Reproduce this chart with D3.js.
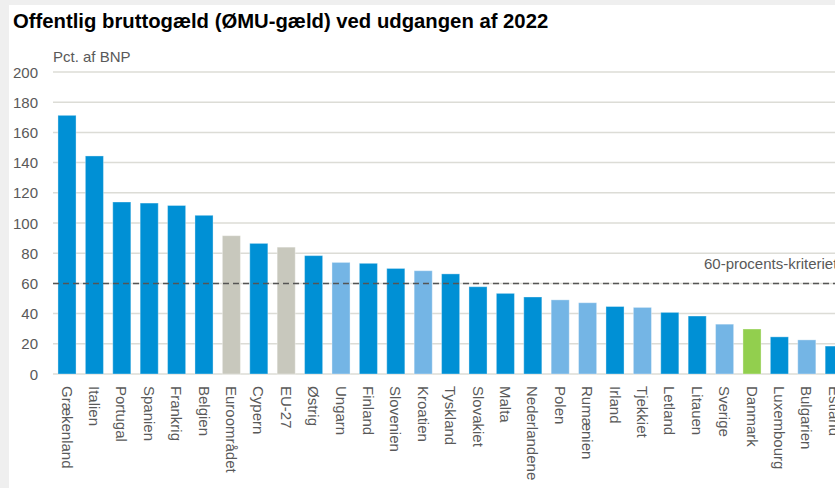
<!DOCTYPE html>
<html>
<head>
<meta charset="utf-8">
<script src="https://cdn.jsdelivr.net/npm/d3@7"></script>
<style>
  body { margin: 0; background: #efefef; }
  svg { display: block; }
  text { font-family: "Liberation Sans", Arial, sans-serif; }
</style>
</head>
<body>
<div id="chart"></div>
<script>
// data
var countries = ["Grækenland", "Italien", "Portugal", "Spanien", "Frankrig", "Belgien",
  "Euroområdet", "Cypern", "EU-27", "Østrig", "Ungarn", "Finland", "Slovenien", "Kroatien",
  "Tyskland", "Slovakiet", "Malta", "Nederlandene", "Polen", "Rumænien", "Irland", "Tjekkiet",
  "Letland", "Litauen", "Sverige", "Danmark", "Luxembourg", "Bulgarien", "Estland"];
var debt = [171.3, 144.4, 113.9, 113.2, 111.6, 105.1, 91.6, 86.5, 84.0, 78.4, 73.9, 73.3, 69.9,
  68.4, 66.3, 57.8, 53.4, 51.0, 49.1, 47.2, 44.7, 44.1, 40.8, 38.4, 33.0, 29.8, 24.6, 22.6, 18.5];
// euro = euro area member, nonEuro = EU outside euro, agg = aggregate, dk = Danmark
var group = ["euro", "euro", "euro", "euro", "euro", "euro", "agg", "euro", "agg", "euro",
  "nonEuro", "euro", "euro", "nonEuro", "euro", "euro", "euro", "euro", "nonEuro", "nonEuro",
  "euro", "nonEuro", "euro", "euro", "nonEuro", "dk", "euro", "nonEuro", "euro"];
var yTicks = [0, 20, 40, 60, 80, 100, 120, 140, 160, 180, 200];
var criterion = 60;

var colors = { euro: "#0090d5", nonEuro: "#74b5e5", agg: "#c8c8bd", dk: "#92cf4e" };

var W = 835, H = 488;

var svg = d3.select("#chart").append("svg")
    .attr("width", W)
    .attr("height", H);

// white panel inside the grey frame
svg.append("rect")
    .attr("x", 9).attr("y", 5)
    .attr("width", W - 9).attr("height", H - 5)
    .attr("fill", "#fff");

svg.append("text")
    .attr("x", 13).attr("y", 28)
    .attr("font-size", 20.3)
    .attr("font-weight", "bold")
    .attr("fill", "#000")
    .text("Offentlig bruttogæld (ØMU-gæld) ved udgangen af 2022");

var x = d3.scaleBand()
    .domain(countries)
    .range([53.3, 53.3 + 29 * 27.4])
    .paddingInner(0.34)
    .paddingOuter(0.17);

var y = d3.scaleLinear()
    .domain([0, 200])
    .range([374, 72]);

var gridX0 = 53, gridX1 = W;

// grid
svg.append("g")
  .selectAll("line")
  .data(yTicks)
  .enter().append("line")
    .attr("x1", gridX0).attr("x2", gridX1)
    .attr("y1", function(d) { return y(d); })
    .attr("y2", function(d) { return y(d); })
    .attr("stroke", "#dcdcd6")
    .attr("stroke-width", 1.5);

// y tick labels
svg.append("g")
  .selectAll("text")
  .data(yTicks)
  .enter().append("text")
    .attr("x", 38)
    .attr("y", function(d) { return y(d) + 5.5; })
    .attr("text-anchor", "end")
    .attr("font-size", 15)
    .attr("fill", "#595959")
    .text(function(d) { return d; });

svg.append("text")
    .attr("x", 53).attr("y", 62)
    .attr("font-size", 15)
    .attr("fill", "#595959")
    .text("Pct. af BNP");

// bars
svg.append("g")
  .selectAll("rect")
  .data(countries)
  .enter().append("rect")
    .attr("x", function(d) { return x(d); })
    .attr("y", function(d, i) { return y(debt[i]); })
    .attr("width", x.bandwidth())
    .attr("height", function(d, i) { return y(0) - y(debt[i]); })
    .attr("fill", function(d, i) { return colors[group[i]]; })
    .attr("stroke", "rgba(255,255,255,0.35)")
    .attr("stroke-width", 1);

// 60 pct criterion
svg.append("line")
    .attr("x1", gridX0).attr("x2", gridX1)
    .attr("y1", y(criterion)).attr("y2", y(criterion))
    .attr("stroke", "#555")
    .attr("stroke-width", 1.5)
    .attr("stroke-dasharray", "6,4");

svg.append("text")
    .attr("x", 704).attr("y", y(criterion) - 14)
    .attr("font-size", 15)
    .attr("fill", "#595959")
    .text("60-procents-kriteriet");

// category labels, rotated
svg.append("g")
  .selectAll("text")
  .data(countries)
  .enter().append("text")
    .attr("transform", function(d) {
      return "translate(" + (x(d) + x.bandwidth() / 2 - 5.5) + ",386) rotate(90)";
    })
    .attr("font-size", 15)
    .attr("fill", "#595959")
    .text(function(d) { return d; });
</script>
</body>
</html>
